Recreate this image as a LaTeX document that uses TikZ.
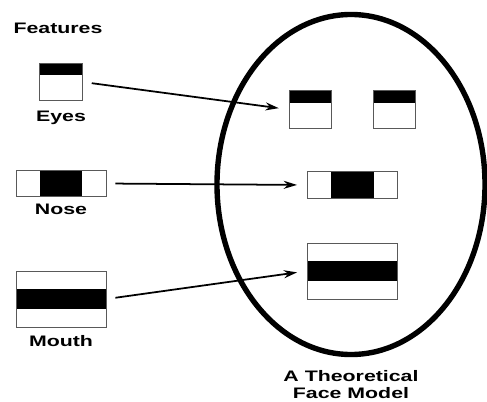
\documentclass[tikz,border=0pt]{standalone}
\usepackage{fontspec}
\newfontfamily\lblfont[FakeStretch=1.4]{Liberation Sans}
\usetikzlibrary{arrows.meta,positioning,shapes.geometric}
\tikzset{
	part/.style={draw=black!65,line width=.8pt,fill=white,inner sep=0pt},
	eyebox/.style={part,minimum width=1.28cm,minimum height=1.13cm,
		path picture={\fill[black] (path picture bounding box.north west) rectangle ([yshift=-.36cm]path picture bounding box.north east);}},
	nosebox/.style={part,minimum width=2.7cm,minimum height=.8cm,
		path picture={\fill[black] ([xshift=-.64cm]path picture bounding box.north) rectangle ([xshift=.64cm]path picture bounding box.south);}},
	mouthbox/.style={part,minimum width=2.7cm,minimum height=1.68cm,
		path picture={\fill[black] ([yshift=.3cm]path picture bounding box.west) rectangle ([yshift=-.3cm]path picture bounding box.east);}},
	lbl/.style={font=\lblfont\bfseries\fontsize{13}{14.5}\selectfont,inner sep=0pt},
	link/.style={-{Stealth[length=.4cm,width=.24cm]},line width=1.5pt,shorten <=.27cm,shorten >=.3cm},
}
\begin{document}
\begin{tikzpicture}[x=.03cm,y=-.03cm]
	\useasboundingbox (0,0) rectangle (487,401);
	% face outline
	\node[ellipse,draw,line width=4.6pt,inner sep=0pt,minimum width=8.04cm,minimum height=10.2cm] (face) at (351,184.5) {};
	\node[lbl,align=center,below=.38cm of face] (title) {A Theoretical\\Face Model};
	% features on the left
	\node[lbl] (feat) at (58,28) {Features};
	\node[eyebox] (eyesL) at (61,82) {};
	\node[nosebox] (noseL) at (61,183.5) {};
	\node[mouthbox] (mouthL) at (61,299) {};
	\node[lbl,below=.27cm of eyesL] (eyeslbl) {Eyes};
	\node[lbl,below=.18cm of noseL] (noselbl) {Nose};
	\node[lbl,below=.24cm of mouthL] (mouthlbl) {Mouth};
	% features inside the face
	\node[eyebox] (eyeR1) at (310.5,109.5) {};
	\node[eyebox] (eyeR2) at (394.5,109.5) {};
	\node[nosebox] (noseR) at (352.5,185) {};
	\node[mouthbox] (mouthR) at (352.5,271) {};
	\draw[link] (eyesL.east)--(eyeR1.west);
	\draw[link] (noseL.east)--(noseR.west);
	\draw[link] (mouthL.east)--(mouthR.west);
\end{tikzpicture}
\end{document}
